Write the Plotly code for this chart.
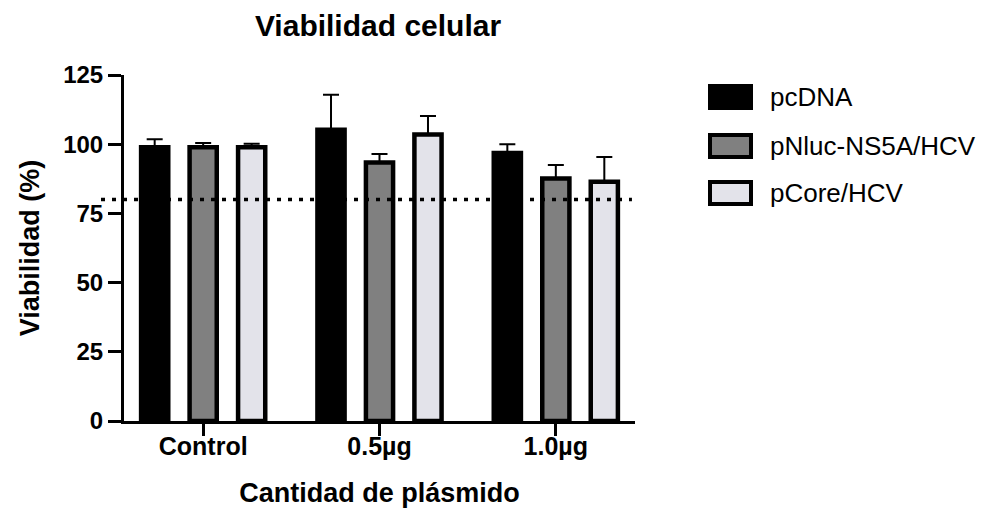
import plotly.graph_objects as go

# ---------------- data ----------------
categories = ["Control", "0.5µg", "1.0µg"]
series_names = ["pcDNA", "pNluc-NS5A/HCV", "pCore/HCV"]
pcdna = [98.9, 105.2, 96.8]
pcdna_err = [2.9, 12.7, 3.2]
pnluc = [98.9, 93.4, 87.6]
pnluc_err = [1.5, 3.1, 4.9]
pcore = [98.9, 103.5, 86.4]
pcore_err = [1.3, 6.7, 9.0]
threshold = 80
y_ticks = [0, 25, 50, 75, 100, 125]

title_text = "Viabilidad celular"
x_title = "Cantidad de plásmido"
y_title = "Viabilidad (%)"

# ---------------- style ----------------
W, H = 992, 510
ML, MR, MT, MB = 124, 357, 75, 89
FONT = "Liberation Sans, Arial, Helvetica, sans-serif"
colors = ["#000000", "#808080", "#e3e3ea"]
values = [pcdna, pnluc, pcore]
errors = [pcdna_err, pnluc_err, pcore_err]

fig = go.Figure()
for name, vals, errs, col in zip(series_names, values, errors, colors):
    fig.add_trace(go.Bar(
        x=categories, y=vals, name=name,
        marker=dict(color=col, line=dict(color="black", width=4.5)),
        error_y=dict(type="data", array=errs, arrayminus=[0] * len(errs),
                     symmetric=False, color="black", thickness=2, width=8),
        showlegend=False,
    ))

# dotted threshold line
fig.add_shape(type="line", xref="paper", yref="y", x0=-0.045, x1=0.994,
              y0=threshold, y1=threshold, layer="above",
              line=dict(color="black", width=3.5, dash="4px,7px"))

# custom legend (large swatches as in the reference)
pw = W - ML - MR
ph = H - MT - MB
def px_x(x):
    return (x - ML) / pw
def px_y(y):
    return (H - MB - y) / ph

leg_centers = [97, 146, 193]
for name, col, cy in zip(series_names, colors, leg_centers):
    fig.add_shape(type="rect", xref="paper", yref="paper",
                  x0=px_x(710), x1=px_x(751), y0=px_y(cy - 11), y1=px_y(cy + 11),
                  fillcolor=col, line=dict(color="black", width=4))
    fig.add_annotation(text=name, xref="paper", yref="paper",
                       x=px_x(768), y=px_y(cy), xanchor="left", yanchor="middle",
                       showarrow=False, font=dict(family=FONT, size=26, color="black"))

fig.update_layout(
    width=W, height=H,
    margin=dict(l=ML, r=MR, t=MT, b=MB),
    paper_bgcolor="white", plot_bgcolor="white",
    barmode="group", bargap=0.175, bargroupgap=0.44,
    title=dict(text=title_text, x=px_x(378), xref="paper", xanchor="center",
               y=(H - 25) / H, yref="container", yanchor="middle",
               font=dict(family=FONT, size=30, color="black", weight="bold")),
    font=dict(family=FONT, color="black"),
)
fig.update_xaxes(
    type="category", range=[-0.449, 2.449], automargin=False,
    showline=True, linecolor="black", linewidth=3,
    ticks="outside", ticklen=12, tickwidth=3, tickcolor="black",
    ticklabelstandoff=-11,
    tickfont=dict(family=FONT, size=25, color="black", weight="bold"),
    title=dict(text=x_title, standoff=25,
               font=dict(family=FONT, size=27, color="black", weight="bold")),
    showgrid=False, zeroline=False,
)
fig.update_yaxes(
    range=[0, 125], tickvals=y_ticks, automargin=False,
    showline=True, linecolor="black", linewidth=3,
    ticks="outside", ticklen=13, tickwidth=3, tickcolor="black",
    tickfont=dict(family=FONT, size=24, color="black", weight="bold"),
    title=dict(text=y_title, standoff=16,
               font=dict(family=FONT, size=27, color="black", weight="bold")),
    showgrid=False, zeroline=False,
)

fig.write_html("out.html")
